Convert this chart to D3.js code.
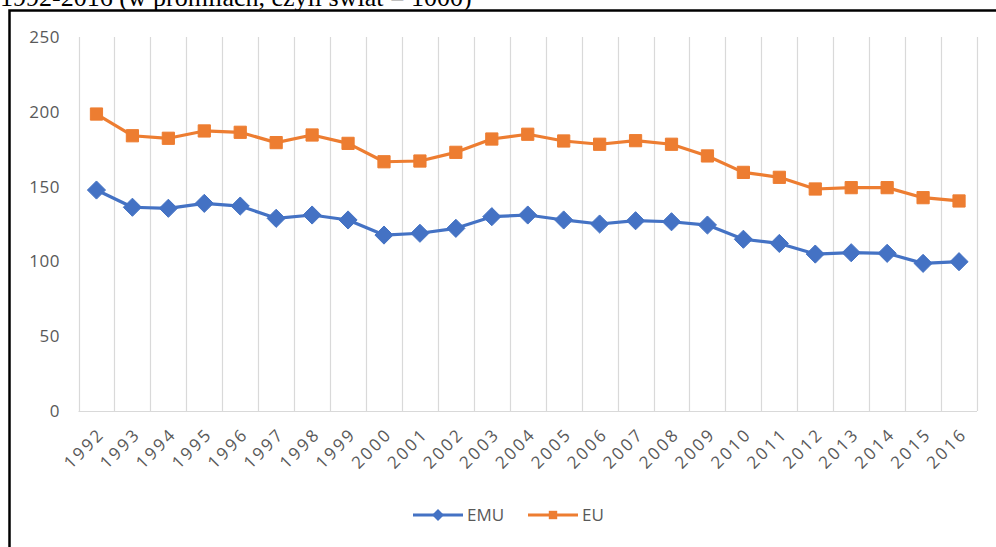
<!DOCTYPE html>
<html>
<head>
<meta charset="utf-8">
<script src="https://cdn.jsdelivr.net/npm/d3@7"></script>
<style>
  body { margin: 0; background: #fff; overflow: hidden; }
  #chart { width: 996px; height: 547px; }
</style>
</head>
<body>
<div id="chart"></div>
<script>
//// data
var years = ["1992","1993","1994","1995","1996","1997","1998","1999","2000","2001","2002","2003",
  "2004","2005","2006","2007","2008","2009","2010","2011","2012","2013","2014","2015","2016"];
var emu = [147.7,136.2,135.5,138.8,137,128.8,131,127.7,117.6,118.8,122.1,129.9,
  131,127.7,125,127.2,126.5,124.3,114.8,112,104.9,105.8,105.4,98.7,99.8];
var eu = [198.5,184,182.3,187.2,186.3,179.4,184.5,178.9,166.6,167.1,172.9,181.8,
  185,180.5,178.3,180.7,178.3,170.5,159.5,156.2,148.4,149.3,149.3,142.6,140.4];
var yTicks = [0, 50, 100, 150, 200, 250];

var blue = "#4472c4", orange = "#ed7d31", grey = "#d9d9d9", txt = "#595959";

var width = 996, height = 547;
var svg = d3.select("#chart").append("svg")
    .attr("width", width)
    .attr("height", height);

//// caption above the box (clipped at the top, as in the source page)
svg.append("text")
    .attr("x", 0)
    .attr("y", 6)
    .attr("font-family", "Liberation Serif, serif")
    .attr("font-size", 26)
    .attr("fill", "#000")
    .text("1992-2016 (w promilach, czyli świat = 1000)");

//// box (runs off the right and bottom edges)
svg.append("rect")
    .attr("x", 9.5)
    .attr("y", 10.5)
    .attr("width", 1100)
    .attr("height", 600)
    .attr("fill", "#fff")
    .attr("stroke", "#000")
    .attr("stroke-width", 2.5);

var x = d3.scaleBand()
    .domain(years)
    .range([78.5, 977]);

var y = d3.scaleLinear()
    .domain([0, 250])
    .range([411, 37]);

//// vertical gridlines at category boundaries
var bounds = years.map(function(d) { return x(d); }).concat([x.range()[1]]);
svg.append("g").selectAll("line")
    .data(bounds)
    .enter().append("line")
    .attr("x1", function(d) { return Math.round(d) + 0.5; })
    .attr("x2", function(d) { return Math.round(d) + 0.5; })
    .attr("y1", y(250))
    .attr("y2", y(0))
    .attr("stroke", grey)
    .attr("stroke-width", 1.2);

//// x axis line
svg.append("line")
    .attr("x1", x.range()[0])
    .attr("x2", x.range()[1])
    .attr("y1", y(0) + 0.5)
    .attr("y2", y(0) + 0.5)
    .attr("stroke", grey)
    .attr("stroke-width", 1.2);

//// y labels
svg.append("g").selectAll("text")
    .data(yTicks)
    .enter().append("text")
    .attr("x", 60)
    .attr("y", function(d) { return y(d); })
    .attr("dy", "0.35em")
    .attr("text-anchor", "end")
    .attr("font-family", "Open Sans, sans-serif")
    .attr("font-size", 17)
    .attr("letter-spacing", 0.5)
    .attr("fill", txt)
    .text(function(d) { return d; });

//// x labels, rotated
svg.append("g").selectAll("text")
    .data(years)
    .enter().append("text")
    .attr("transform", function(d) {
      return "translate(" + (x(d) + x.bandwidth() / 2 + 5) + "," + (y(0) + 20) + ") rotate(-45)";
    })
    .attr("text-anchor", "end")
    .attr("dy", "0.35em")
    .attr("font-family", "Open Sans, sans-serif")
    .attr("font-size", 17)
    .attr("letter-spacing", 2.5)
    .attr("fill", txt)
    .text(function(d) { return d; });

var cx = function(i) { return x(years[i]) + x.bandwidth() / 2; };

var line = d3.line()
    .x(function(d, i) { return cx(i); })
    .y(function(d) { return y(d); });

//// series
function drawSeries(vals, color, shape, size) {
  svg.append("path")
      .datum(vals)
      .attr("d", line)
      .attr("fill", "none")
      .attr("stroke", color)
      .attr("stroke-width", 3.2)
      .attr("stroke-linejoin", "round");

  svg.append("g").selectAll("path")
      .data(vals)
      .enter().append("path")
      .attr("d", d3.symbol().type(shape).size(size))
      .attr("transform", function(d, i) { return "translate(" + cx(i) + "," + y(d) + ")"; })
      .attr("fill", color)
      .attr("stroke", color)
      .attr("stroke-width", 1);
}

drawSeries(emu, blue, d3.symbolDiamond2, 210);
drawSeries(eu, orange, d3.symbolSquare2, 190);

//// legend
var legend = [
  {name: "EMU", color: blue, shape: d3.symbolDiamond2, x: 413},
  {name: "EU", color: orange, shape: d3.symbolSquare2, x: 528}
];
var lg = svg.append("g").selectAll("g")
    .data(legend)
    .enter().append("g")
    .attr("transform", function(d) { return "translate(" + d.x + ",515)"; });

lg.append("line")
    .attr("x1", 0).attr("x2", 50)
    .attr("stroke", function(d) { return d.color; })
    .attr("stroke-width", 3);

lg.append("path")
    .attr("d", function(d) { return d3.symbol().type(d.shape).size(90)(); })
    .attr("transform", "translate(25,0)")
    .attr("fill", function(d) { return d.color; });

lg.append("text")
    .attr("x", 54)
    .attr("dy", "0.35em")
    .attr("font-family", "Open Sans, sans-serif")
    .attr("font-size", 17)
    .attr("fill", txt)
    .text(function(d) { return d.name; });
</script>
</body>
</html>
